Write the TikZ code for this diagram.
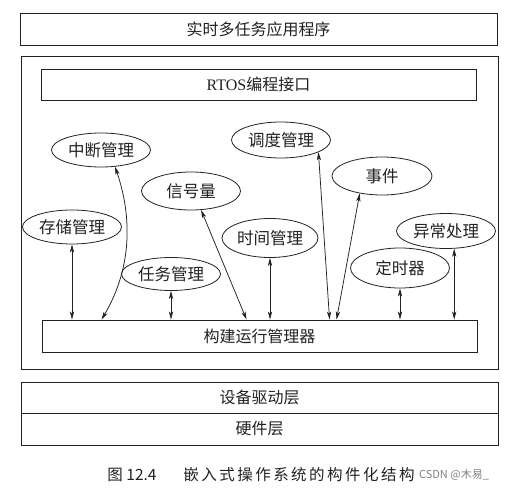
\documentclass[tikz,border=0pt]{standalone}
\usepackage{fontspec}
\setmainfont{Noto Sans CJK SC}
\newfontfamily\latinserif{Liberation Serif}
\usetikzlibrary{shapes.geometric,arrows.meta}
\definecolor{ink}{HTML}{222222}
\tikzset{
  box/.style={draw=ink, line width=0.9pt, minimum height=32pt, inner sep=0pt,
    font=\fontsize{16}{18}\selectfont, text=ink},
  oval/.style={draw=ink, ellipse, line width=0.8pt, inner sep=0pt,
    minimum width=99pt, minimum height=36pt, font=\fontsize{16.5}{18}\selectfont, text=ink},
  dbl/.style={{Stealth[length=8pt,width=4.2pt,inset=2pt]}-{Stealth[length=8pt,width=4.2pt,inset=2pt]},
    line width=0.75pt, draw=ink},
  captext/.style={font=\fontsize{15.5}{17}\selectfont, text=ink}
}
\begin{document}
\begin{tikzpicture}[x=1pt,y=-1pt]
\useasboundingbox[fill=white] (0,0) rectangle (507,490);
% layers
\node[box, minimum width=477pt] (app) at (258.5,29) {实时多任务应用程序};
\node[draw=ink, line width=0.9pt, minimum width=477pt, minimum height=313pt, inner sep=0pt] (rtos) at (259.5,212.5) {};
\node[box, minimum width=435pt, minimum height=31pt] (api) at (258.5,84.5) {{\latinserif RTOS}编程接口};
\node[box, minimum width=435pt] (build) at (259.5,336) {构建运行管理器};
\node[box, minimum width=477pt, minimum height=31pt] (drv) at (259.5,397.5) {设备驱动层};
\node[box, minimum width=477pt] (hw) at (259.5,429) {硬件层};
% components
\node[oval, minimum height=34pt] (zd) at (101,150) {中断管理};
\node[oval, minimum height=38pt] (xh) at (191,191) {信号量};
\node[oval, minimum height=34pt] (cc) at (72,227) {存储管理};
\node[oval, minimum height=33pt] (rw) at (171,274) {任务管理};
\node[oval, minimum width=96pt, minimum height=39pt] (sjgl) at (270,238) {时间管理};
\node[oval, minimum height=36pt] (dd) at (281,140) {调度管理};
\node[oval, minimum width=100pt, minimum height=38pt] (sj) at (382,176) {事件};
\node[oval, minimum height=35pt] (yc) at (446,231) {异常处理};
\node[oval, minimum height=40pt] (ds) at (400,268) {定时器};
% connector ends on the build box
\coordinate (bz) at ([xshift=60pt]build.north west);
\coordinate (bx) at ([xshift=205pt]build.north west);
\coordinate (bd) at ([xshift=288pt]build.north west);
\coordinate (bs) at ([xshift=295pt]build.north west);
% connectors
\draw[dbl] (cc.south) -- (cc.south |- build.north);
\draw[dbl] (zd.-50) .. controls (135,225) and (128,275) .. (bz);
\draw[dbl] (rw.south) -- (rw.south |- build.north);
\draw[dbl] (xh.-62) -- (bx);
\draw[dbl] (sjgl.south) -- (sjgl.south |- build.north);
\draw[dbl] (dd.-18) -- (bd);
\draw[dbl] (sj.-142) -- (bs);
\draw[dbl] (ds.south) -- (ds.south |- build.north);
\draw[dbl] (yc.-65) -- (yc.-65 |- build.north);
% caption
\node[captext] (fignum) at (132,475) {图 12.4};
\node[captext, font=\fontsize{15.5}{17}\selectfont\addfontfeature{LetterSpace=16}] (figtitle) at (299,475) {嵌入式操作系统的构件化结构};
\node[font=\fontsize{11}{12}\selectfont, text=gray] (wm) at (454,475) {CSDN @木易\_};
\end{tikzpicture}
\end{document}
